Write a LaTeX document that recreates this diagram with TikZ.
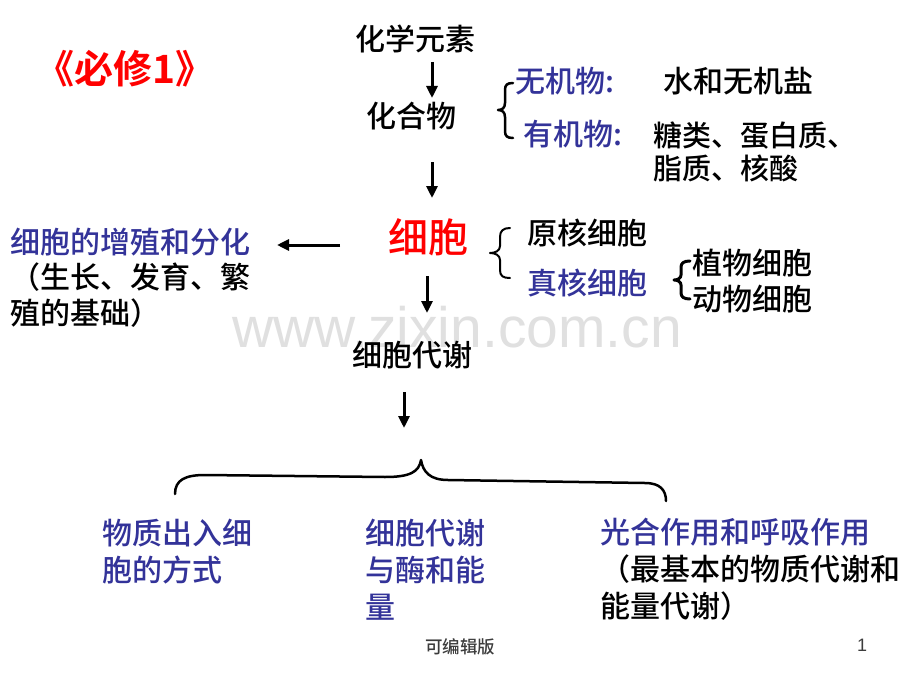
\documentclass[tikz,border=0pt]{standalone}
\usepackage{fontspec}
\IfFontExistsTF{Noto Sans CJK SC Medium}
  {\setmainfont{Noto Sans CJK SC Medium}[BoldFont={Noto Sans CJK SC Bold}]}
  {\setmainfont{Noto Sans CJK SC}}
\newfontfamily\latinfont{Liberation Sans}
\usetikzlibrary{arrows.meta}
\definecolor{pblue}{RGB}{51,51,153}
\definecolor{pred}{RGB}{255,0,0}
\definecolor{wmgray}{RGB}{224,224,224}
\definecolor{footgray}{RGB}{60,60,60}
\begin{document}
\begin{tikzpicture}[x=1pt,y=-1pt,
  txt/.style={inner sep=0pt, outer sep=0pt, align=left, anchor=base west},
  f30/.style={font=\fontsize{30}{36}\selectfont},
  f30b/.style={font=\fontsize{30}{37}\selectfont},
  arr/.style={line width=3pt, -{Triangle[length=12pt,width=11pt]}},
  bracepath/.style={line width=2.5pt, line cap=round, line join=round}
]
\useasboundingbox[fill=white] (0,0) rectangle (920,690);

% watermark
\node[txt, font=\latinfont\fontsize{57}{60}\selectfont, text=wmgray] (wmk) at (232,347) {www.zixin.com.cn};

% title
\node[txt, anchor=base, font=\bfseries\fontsize{39}{42}\selectfont, text=pred] (title) at (125,84) {《必修1》};

% main column
\node[txt, anchor=base, f30] (elem) at (415,51) {化学元素};
\node[txt, anchor=base, f30] (comp) at (411,128) {化合物};
\node[txt, anchor=base, font=\fontsize{40}{44}\selectfont, text=pred] (cell) at (428,252) {细胞};
\node[txt, anchor=base, f30] (meta) at (412,366) {细胞代谢};

% compounds
\node[txt, f30, text=pblue] (inorg) at (515,93) {无机物:};
\node[txt, f30] (water) at (663,93) {水和无机盐};
\node[txt, f30, text=pblue] (org) at (523,146) {有机物:};
\node[txt, font=\fontsize{29}{33}\selectfont] (orgl) at (653,179) {糖类、蛋白质、\\脂质、核酸};

% cell types
\node[txt, f30] (pro) at (527,244) {原核细胞};
\node[txt, f30, text=pblue] (euk) at (527,294) {真核细胞};
\node[txt, f30] (plant) at (692,310) {植物细胞\\动物细胞};

% left
\node[txt, font=\fontsize{30}{35.5}\selectfont] (grow) at (10,324) {\textcolor{pblue}{细胞的增殖和分化}\\（生长、发育、繁\\殖的基础）};

% bottom
\node[txt, f30b, text=pblue] (trans) at (102,581) {物质出入细\\胞的方式};
\node[txt, f30b, text=pblue] (enz) at (365,618) {细胞代谢\\与酶和能\\量};
\node[txt, f30b] (photo) at (600,617) {\textcolor{pblue}{光合作用和呼吸作用}\\（最基本的物质代谢和\\能量代谢）};

% footer
\node[txt, anchor=base, font=\fontsize{17.5}{20}\selectfont, text=footgray] (foot) at (460,653) {可编辑版};
\node[txt, anchor=base, font=\latinfont\fontsize{18}{20}\selectfont, text=footgray] (pnum) at (862,651) {1};

% arrows
\coordinate (a1s) at (432,62);  \coordinate (a1e) at (432,98);
\coordinate (a2s) at (432,162); \coordinate (a2e) at (432,198);
\coordinate (a3s) at (340,245); \coordinate (a3e) at (277,245);
\coordinate (a4s) at (427,276); \coordinate (a4e) at (427,313);
\coordinate (a5s) at (404,392); \coordinate (a5e) at (404,428);
\draw[arr] (a1s) -- (a1e);
\draw[arr] (a2s) -- (a2e);
\draw[arr] (a3s) -- (a3e);
\draw[arr] (a4s) -- (a4e);
\draw[arr] (a5s) -- (a5e);

% braces
\draw[bracepath] (513,83) .. controls (507,83) and (505,85) .. (505,90)
  -- (505,103) .. controls (505,108) and (502,110) .. (498,110)
  .. controls (502,110) and (505,112) .. (505,117)
  -- (505,131) .. controls (505,136) and (507,138) .. (513,138);
\draw[bracepath, line width=2pt] (510,228) .. controls (503,228) and (500,231) .. (500,237)
  -- (500,246) .. controls (500,251) and (495,253) .. (490,253)
  .. controls (495,253) and (500,255) .. (500,260)
  -- (500,270) .. controls (500,276) and (503,278) .. (510,278);
\draw[bracepath, line width=3pt] (690,261) .. controls (684,261) and (681,263) .. (681,267)
  -- (681,275) .. controls (681,278) and (678,280) .. (674,280)
  .. controls (678,280) and (681,282) .. (681,285)
  -- (681,293) .. controls (681,297) and (684,299) .. (690,299);
\draw[bracepath] (175,494) .. controls (175,480) and (185,475) .. (205,475)
  -- (385,477) .. controls (410,477) and (419,472) .. (421,460)
  .. controls (423,472) and (430,480) .. (448,480)
  -- (645,483) .. controls (660,483) and (666,490) .. (666,501);
\end{tikzpicture}
\end{document}
